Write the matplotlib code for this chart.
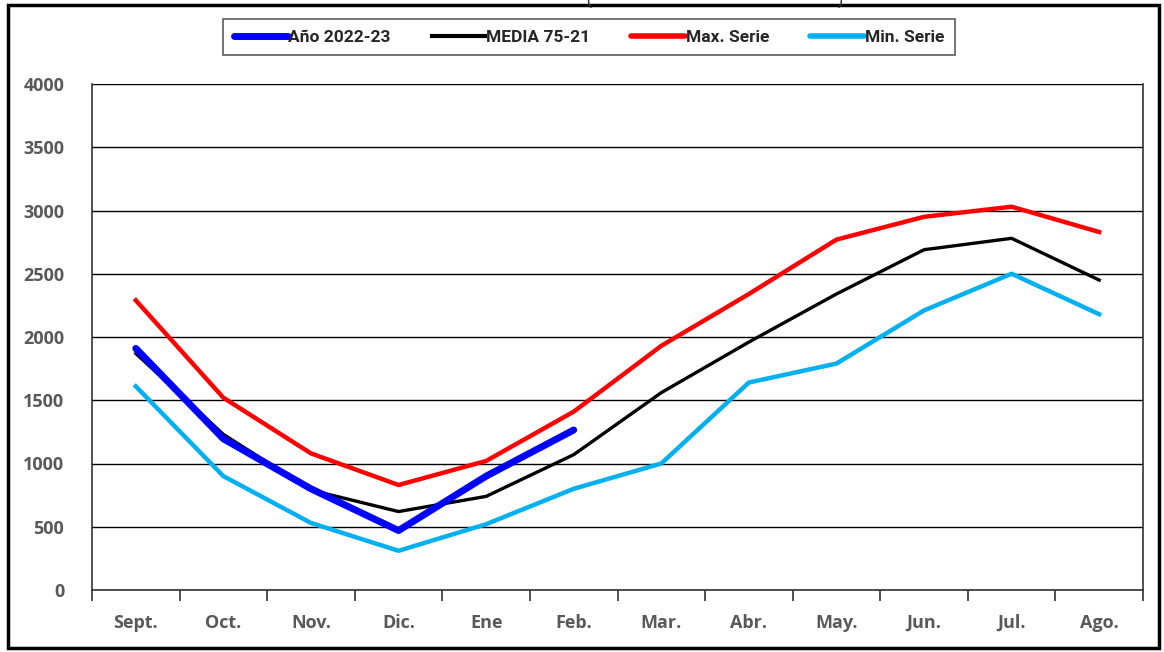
# -*- coding: utf-8 -*-
# monthly series chart: current year vs mean, max and min of the series
import matplotlib
matplotlib.use('Agg')
import matplotlib.pyplot as plt
from matplotlib.patches import Rectangle
from matplotlib.lines import Line2D

months = ['Sept.', 'Oct.', 'Nov.', 'Dic.', 'Ene', 'Feb.',
          'Mar.', 'Abr.', 'May.', 'Jun.', 'Jul.', 'Ago.']
anio_2022_23 = [1910, 1195, 800, 470, 900, 1265]
media_75_21 = [1870, 1230, 790, 620, 740, 1070, 1560, 1960, 2340, 2690, 2780, 2450]
max_serie = [2290, 1520, 1080, 830, 1020, 1410, 1930, 2340, 2770, 2950, 3030, 2830]
min_serie = [1610, 900, 530, 310, 520, 800, 1000, 1640, 1790, 2210, 2500, 2180]
y_ticks = [0, 500, 1000, 1500, 2000, 2500, 3000, 3500, 4000]

plt.rcParams['font.family'] = ['Open Sans', 'DejaVu Sans']
txt = '#595959'

fig = plt.figure(figsize=(11.64, 6.52), dpi=100)
ax = fig.add_axes([92/1164, 1 - 590/652, (1143 - 92)/1164, (590 - 84)/652])

x = list(range(len(months)))
ax.plot(x, max_serie, color='#ff0000', lw=3.2, solid_joinstyle='round', zorder=3)
ax.plot(x, min_serie, color='#00b0f0', lw=3.2, solid_joinstyle='round', zorder=3)
ax.plot(x, media_75_21, color='black', lw=2.4, solid_joinstyle='round', zorder=4)
ax.plot(x[:len(anio_2022_23)], anio_2022_23, color='#0000ff', lw=5,
        solid_capstyle='round', solid_joinstyle='round', zorder=5)

ax.set_xlim(-0.5, 11.5)
ax.set_ylim(0, 4000)
ax.set_yticks(y_ticks)
ax.set_yticklabels([str(v) for v in y_ticks], fontsize=13, fontweight='bold', color=txt)
ax.yaxis.grid(True, color='black', lw=1.0)
ax.set_axisbelow(True)
ax.tick_params(axis='y', length=0, pad=20)

ax.set_xticks(x)
ax.set_xticklabels(months, fontsize=13, fontweight='bold', color=txt)
ax.tick_params(axis='x', which='major', length=0, pad=17)
ax.set_xticks([i - 0.5 for i in range(len(months) + 1)], minor=True)
ax.tick_params(axis='x', which='minor', length=8, width=1.2, color='#333333', direction='out')

for s in ['left', 'right', 'bottom']:
    ax.spines[s].set_color('#333333')
    ax.spines[s].set_linewidth(1.2)
ax.spines['top'].set_visible(False)

# legend
handles = [Line2D([], [], color='#0000ff', lw=5, solid_capstyle='round'),
           Line2D([], [], color='black', lw=3),
           Line2D([], [], color='#ff0000', lw=4, solid_capstyle='round'),
           Line2D([], [], color='#00b0f0', lw=4, solid_capstyle='round')]
labels = ['Año 2022-23', 'MEDIA 75-21', 'Max. Serie', 'Min. Serie']
leg = fig.legend(handles, labels, loc='center', bbox_to_anchor=(589/1164, 1 - 37/652),
                 ncol=4, frameon=True, fancybox=False, handlelength=3.1, handletextpad=0.05,
                 columnspacing=2.35, borderpad=0.6,
                 prop={'family': 'Roboto', 'size': 12.5, 'weight': 'bold'})
leg.get_frame().set_edgecolor('#333333')
leg.get_frame().set_linewidth(1.2)
for t in leg.get_texts():
    t.set_color('#262626')

# cut-off title remnant at the top
fig.text(715/1164, 1.0, '(' + ' ' * 53 + ')', ha='center', va='center',
         fontsize=13, color='#333333')

# outer border
fig.patches.append(Rectangle((8/1164, 4/652), 1151/1164, 643/652, transform=fig.transFigure,
                             fill=False, edgecolor='black', lw=2.5))

fig.savefig('out.png', dpi=100)
